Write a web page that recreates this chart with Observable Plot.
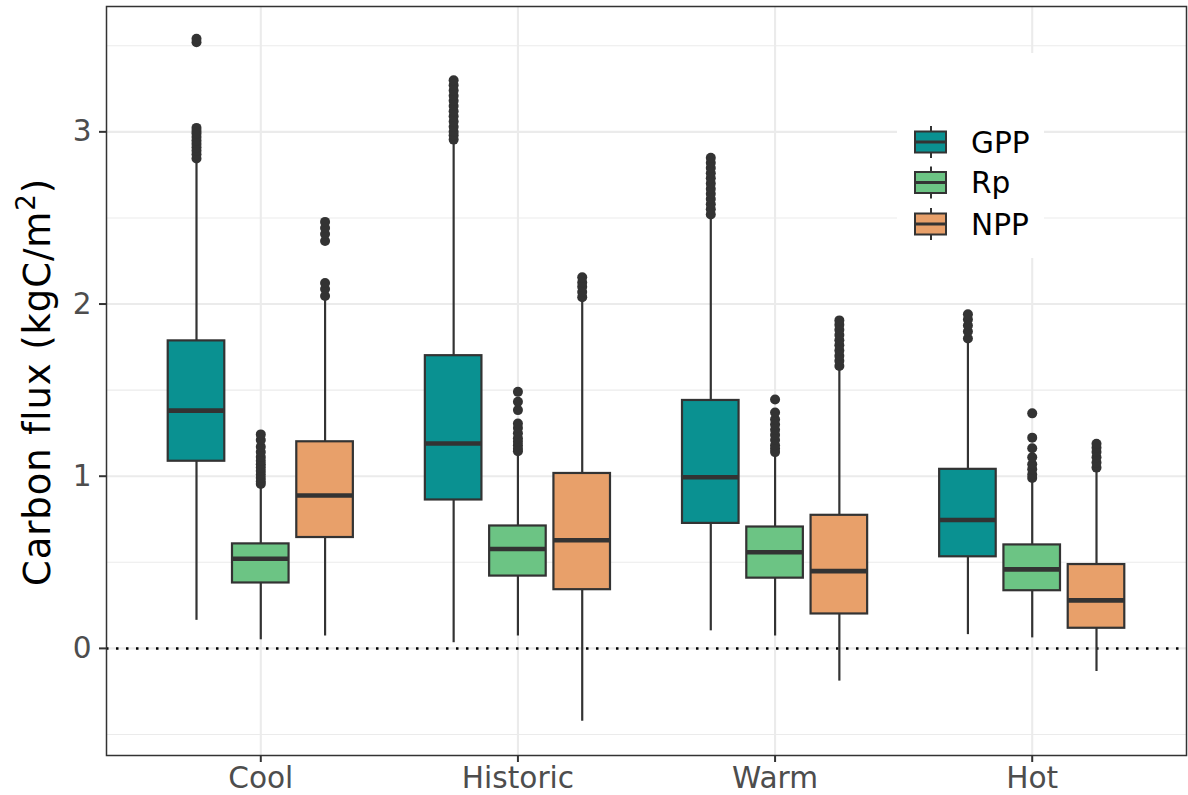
<!DOCTYPE html>
<html>
<head>
<meta charset="utf-8">
<script src="https://cdn.jsdelivr.net/npm/d3@7"></script>
<script src="https://cdn.jsdelivr.net/npm/@observablehq/plot@0.6"></script>
<style>
  body { margin: 0; background: #fff; }
  #wrap { position: relative; width: 1188px; height: 795px; }
  #legend { position: absolute; left: 897px; top: 53px; }
</style>
</head>
<body>
<div id="wrap"></div>
<script>
// Climate scenarios along the x axis and the three carbon fluxes in each.
const scenarios = ["Cool", "Historic", "Warm", "Hot"];
const series = ["GPP", "Rp", "NPP"];
const seriesColors = ["#0a9191", "#6cc484", "#e8a06a"];

// Box summaries per scenario: [lower whisker, Q1, median, Q3, upper whisker] (kgC/m²)
const gppStats = [
  [0.163, 1.087, 1.381, 1.786, 2.83],
  [0.033, 0.862, 1.19, 1.70, 2.94],
  [0.102, 0.726, 0.994, 1.44, 2.50],
  [0.08, 0.532, 0.746, 1.04, 1.78]
];
const rpStats = [
  [0.05, 0.380, 0.521, 0.607, 0.94],
  [0.072, 0.42, 0.577, 0.711, 1.13],
  [0.072, 0.408, 0.558, 0.705, 1.13],
  [0.061, 0.335, 0.459, 0.601, 0.975]
];
const nppStats = [
  [0.072, 0.644, 0.888, 1.20, 2.02],
  [-0.423, 0.341, 0.628, 1.016, 2.02],
  [-0.19, 0.20, 0.449, 0.773, 1.62],
  [-0.134, 0.117, 0.279, 0.487, 1.03]
];

// Points beyond the whiskers, per scenario
const gppOutliers = [
  [2.845, 2.87, 2.89, 2.91, 2.93, 2.95, 2.97, 2.99, 3.005, 3.023, 3.52, 3.54],
  [2.955, 2.98, 3.0, 3.03, 3.06, 3.09, 3.12, 3.15, 3.18, 3.21, 3.24, 3.27, 3.30],
  [2.52, 2.55, 2.58, 2.61, 2.64, 2.67, 2.70, 2.73, 2.76, 2.79, 2.82, 2.85],
  [1.80, 1.84, 1.875, 1.91, 1.94]
];
const rpOutliers = [
  [0.955, 0.97, 0.99, 1.01, 1.03, 1.05, 1.07, 1.09, 1.112, 1.14, 1.171, 1.21, 1.243],
  [1.145, 1.16, 1.18, 1.20, 1.22, 1.25, 1.28, 1.306, 1.384, 1.432, 1.49],
  [1.14, 1.16, 1.18, 1.21, 1.24, 1.27, 1.30, 1.33, 1.37, 1.446],
  [0.99, 1.01, 1.04, 1.07, 1.11, 1.162, 1.224, 1.365]
];
const nppOutliers = [
  [2.047, 2.087, 2.122, 2.366, 2.407, 2.442, 2.477],
  [2.04, 2.07, 2.10, 2.125, 2.155],
  [1.64, 1.67, 1.70, 1.73, 1.76, 1.79, 1.82, 1.85, 1.88, 1.905],
  [1.05, 1.08, 1.11, 1.14, 1.165, 1.188]
];

const yMajor = [0, 1, 2, 3];
const yMinor = [-0.5, 0.5, 1.5, 2.5, 3.5];

// Dodge layout: each flux sits a quarter unit apart within its scenario
const dodge = [-0.25, 0, 0.25];
const halfWidth = 0.11;
const statsBySeries = [gppStats, rpStats, nppStats];
const outliersBySeries = [gppOutliers, rpOutliers, nppOutliers];

const boxes = scenarios.flatMap((scenario, i) =>
  series.map((name, j) => {
    const [lo, q1, med, q3, hi] = statsBySeries[j][i];
    return {scenario, series: name, x: i + 1 + dodge[j], lo, q1, med, q3, hi};
  })
);
const outliers = scenarios.flatMap((scenario, i) =>
  series.flatMap((name, j) =>
    outliersBySeries[j][i].map(value => ({scenario, series: name, x: i + 1 + dodge[j], value}))
  )
);

const ink = "#333333";
const grid = "#ebebeb";

const chart = Plot.plot({
  width: 1188,
  height: 795,
  marginLeft: 106,
  marginRight: 2,
  marginTop: 6,
  marginBottom: 40,
  style: {fontFamily: "DejaVu Sans", fontSize: "29.6px", background: "white"},
  x: {domain: [0.4, 4.6], axis: null},
  y: {domain: [-0.622, 3.728], axis: null},
  color: {domain: series, range: seriesColors},
  marks: [
    Plot.ruleY(yMinor, {stroke: grid, strokeWidth: 1.1}),
    Plot.ruleY(yMajor, {stroke: grid, strokeWidth: 2.1}),
    Plot.ruleX([1, 2, 3, 4], {stroke: grid, strokeWidth: 2.1}),
    Plot.ruleY([0], {stroke: "black", strokeWidth: 2.5, strokeDasharray: "2.5,7.5"}),
    Plot.ruleX(boxes, {x: "x", y1: "lo", y2: "q1", stroke: ink, strokeWidth: 2.2}),
    Plot.ruleX(boxes, {x: "x", y1: "q3", y2: "hi", stroke: ink, strokeWidth: 2.2}),
    Plot.rect(boxes, {
      x1: d => d.x - halfWidth, x2: d => d.x + halfWidth,
      y1: "q1", y2: "q3", fill: "series", stroke: ink, strokeWidth: 2.2
    }),
    Plot.ruleY(boxes, {
      y: "med", x1: d => d.x - halfWidth, x2: d => d.x + halfWidth,
      stroke: ink, strokeWidth: 4.6
    }),
    Plot.dot(outliers, {x: "x", y: "value", r: 5, fill: ink}),
    Plot.frame({stroke: ink, strokeWidth: 1.5}),
    Plot.axisY(yMajor, {
      tickSize: 7, tickPadding: 8, stroke: ink, strokeWidth: 2,
      fill: "#4d4d4d", label: null, tickFormat: d => String(d)
    }),
    Plot.axisX([1, 2, 3, 4], {
      tickSize: 7, tickPadding: 4, stroke: ink, strokeWidth: 2,
      fill: "#4d4d4d", label: null, tickFormat: d => scenarios[d - 1]
    })
  ]
});

document.getElementById("wrap").appendChild(chart);

// Rotated y-axis title with a superscript
const title = d3.select(chart).append("text")
  .attr("transform", "translate(50,382) rotate(-90)")
  .attr("text-anchor", "middle")
  .attr("fill", "black")
  .style("font-family", "DejaVu Sans")
  .style("font-size", "37px")
  .style("letter-spacing", "0.9px");
title.append("tspan").text("Carbon flux (kgC/m");
title.append("tspan").attr("dy", -15).style("font-size", "26px").text("2");
title.append("tspan").attr("dy", 15).text(")");

// Legend with small boxplot keys, sitting inside the panel
const legend = d3.select("#wrap").append("svg")
  .attr("id", "legend")
  .attr("width", 147)
  .attr("height", 205)
  .style("background", "white");
const rowY = [89, 129.5, 171];
series.forEach((name, i) => {
  const g = legend.append("g").attr("transform", `translate(0,${rowY[i]})`);
  g.append("line").attr("x1", 34).attr("x2", 34).attr("y1", -16).attr("y2", 16)
    .attr("stroke", ink).attr("stroke-width", 2);
  g.append("rect").attr("x", 18).attr("y", -10.5).attr("width", 31).attr("height", 21)
    .attr("fill", seriesColors[i]).attr("stroke", ink).attr("stroke-width", 2);
  g.append("line").attr("x1", 18).attr("x2", 49).attr("y1", 0).attr("y2", 0)
    .attr("stroke", ink).attr("stroke-width", 3);
  g.append("text").attr("x", 74).attr("y", 10.8)
    .attr("fill", "black")
    .style("font-family", "DejaVu Sans").style("font-size", "29.6px")
    .text(name);
});
</script>
</body>
</html>
